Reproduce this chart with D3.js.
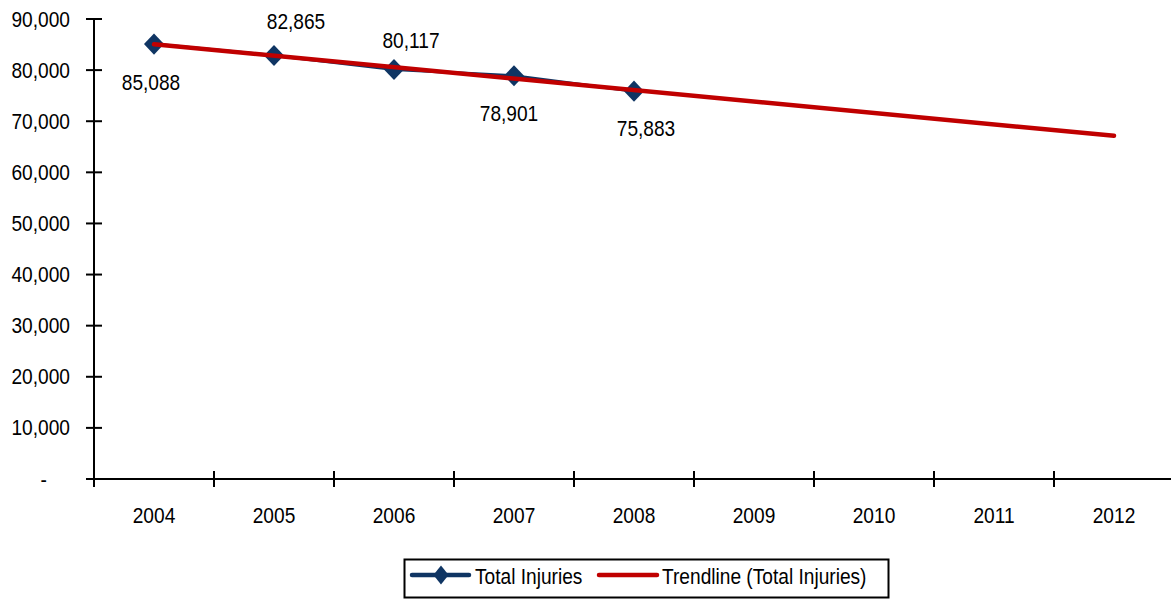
<!DOCTYPE html>
<html><head><meta charset="utf-8">
<script src="https://cdn.jsdelivr.net/npm/d3@7"></script>
<style>body{margin:0;background:#fff;} text{font-family:"Liberation Sans",Arial,sans-serif;font-size:22px;}</style>
</head><body><svg id="c" width="1171" height="599"></svg>
<script>
const years = ["2004","2005","2006","2007","2008","2009","2010","2011","2012"];
const injuryYears = ["2004","2005","2006","2007","2008"];
const injuries = [85088, 82865, 80117, 78901, 75883];
const trendYears = ["2004","2012"];
const trendValues = [85046, 67146];
const yTicks = [0,10000,20000,30000,40000,50000,60000,70000,80000,90000];
const labelOffsets = [[-3,38],[22,-34],[17,-30],[-5,37],[12,37]];

const K = 0.87; // horizontal condensation of the text face
const NAVY = "#0F3563", RED = "#C00000";
const svg = d3.select("#c");
const x = d3.scaleBand().domain(years).range([94,1174]);
const y = d3.scaleLinear().domain([0,90000]).range([479,19]);
const cx = d => x(d) + x.bandwidth()/2;
const fmt = d => d === 0 ? "-" : d3.format(",")(d);
const diamond = d3.symbol(d3.symbolDiamond,200)();

function label(sel, px, py, anchor, txt) {
  sel.append("g").attr("transform", `translate(${px},${py}) scale(${K},1)`)
    .append("text").attr("text-anchor", anchor).text(txt);
}

// y axis
svg.append("line").attr("x1",94).attr("x2",94).attr("y1",y(90000)).attr("y2",y(0)+8).attr("stroke","#000").attr("stroke-width",2);
svg.selectAll(".yt").data(yTicks).join("line").attr("x1",86).attr("x2",102)
  .attr("y1",d=>y(d)).attr("y2",d=>y(d)).attr("stroke","#000").attr("stroke-width",2);
yTicks.forEach(d => label(svg, d===0?47:70, y(d)+7.5, "end", fmt(d)));
// x axis
svg.append("line").attr("x1",86).attr("x2",1171).attr("y1",y(0)).attr("y2",y(0)).attr("stroke","#000").attr("stroke-width",2);
svg.selectAll(".xt").data(years).join("line").attr("x1",d=>x(d)).attr("x2",d=>x(d))
  .attr("y1",y(0)-8).attr("y2",y(0)+8).attr("stroke","#000").attr("stroke-width",2);
years.forEach(d => label(svg, cx(d), 523, "middle", d));

// series
const line = d3.line().x(d=>cx(d[0])).y(d=>y(d[1]));
const pts = injuryYears.map((d,i)=>[d,injuries[i]]);
svg.append("path").attr("d",line(pts)).attr("fill","none").attr("stroke",NAVY).attr("stroke-width",3);
svg.selectAll(".pt").data(pts).join("path").attr("d",diamond)
  .attr("transform",d=>`translate(${cx(d[0])},${y(d[1])}) scale(1.32,0.8)`).attr("fill",NAVY);
svg.append("path").attr("d",line(trendYears.map((d,i)=>[d,trendValues[i]])))
  .attr("fill","none").attr("stroke",RED).attr("stroke-width",4.5).attr("stroke-linecap","round");
pts.forEach((d,i) => label(svg, cx(d[0])+labelOffsets[i][0], y(d[1])+labelOffsets[i][1]+8, "middle", d3.format(",")(d[1])));

// legend
const lg = svg.append("g");
lg.append("rect").attr("x",404.5).attr("y",559.5).attr("width",484).attr("height",38).attr("fill","#fff").attr("stroke","#000").attr("stroke-width",2);
lg.append("line").attr("x1",412).attr("x2",469).attr("y1",575).attr("y2",575).attr("stroke",NAVY).attr("stroke-width",4.5).attr("stroke-linecap","round");
lg.append("path").attr("d",diamond).attr("transform","translate(441,575) scale(1.0,0.72)").attr("fill",NAVY);
label(lg, 475, 584, "start", "Total Injuries");
lg.append("line").attr("x1",599).attr("x2",657).attr("y1",575).attr("y2",575).attr("stroke",RED).attr("stroke-width",4.5).attr("stroke-linecap","round");
label(lg, 662, 584, "start", "Trendline (Total Injuries)");
</script></body></html>
